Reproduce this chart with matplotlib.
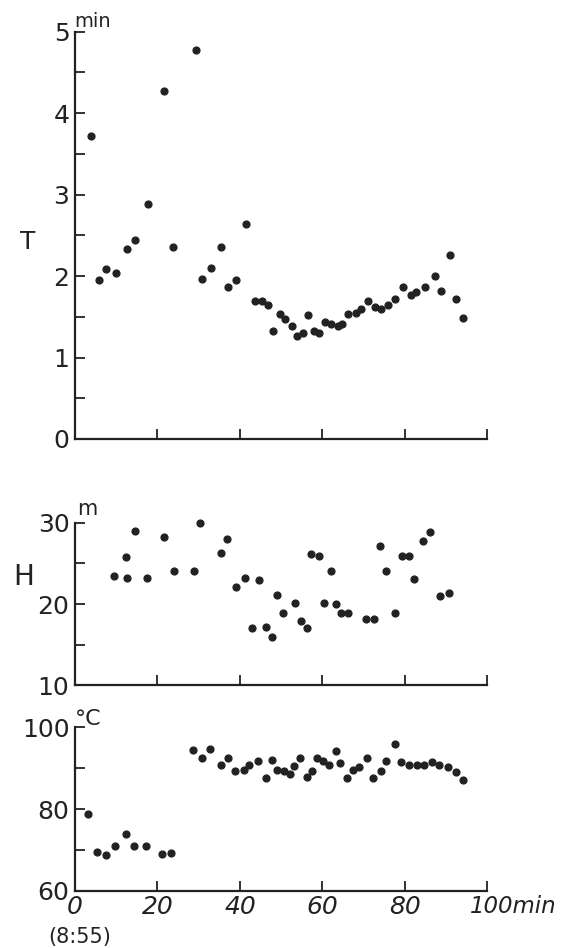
import matplotlib
matplotlib.use("Agg")
import matplotlib.pyplot as plt
from matplotlib.transforms import ScaledTranslation

# time from start (min) and period T (min)
t_min = [3.9, 5.7, 7.6, 9.9, 12.6, 14.5, 17.6, 21.7, 23.8, 29.3, 30.9, 33.0, 35.5, 37.2, 39.1,
         41.5, 43.6, 45.3, 46.7, 48.1, 49.6, 50.9, 52.7, 53.8, 55.2, 56.5, 57.9, 59.2, 60.7,
         62.1, 63.7, 64.7, 66.2, 68.2, 69.4, 71.1, 72.8, 74.3, 76.0, 77.5, 79.5, 81.5, 82.8,
         85.0, 87.4, 88.7, 90.9, 92.5, 94.2]
T_val = [3.72, 1.95, 2.09, 2.04, 2.33, 2.44, 2.88, 4.27, 2.36, 4.78, 1.96, 2.10, 2.36, 1.86, 1.95,
         2.64, 1.69, 1.69, 1.64, 1.33, 1.54, 1.47, 1.39, 1.26, 1.30, 1.52, 1.33, 1.30, 1.44,
         1.41, 1.39, 1.41, 1.53, 1.55, 1.60, 1.70, 1.62, 1.59, 1.64, 1.72, 1.86, 1.77, 1.80,
         1.87, 2.00, 1.82, 2.26, 1.72, 1.48]

# height H (m)
h_min = [9.4, 12.4, 12.5, 14.5, 17.4, 21.5, 23.9, 28.8, 30.3, 35.4, 36.8, 39.0, 41.2, 43.0,
         44.6, 46.4, 47.9, 49.0, 50.4, 53.4, 54.8, 56.3, 57.3, 59.2, 60.3, 62.0, 63.4, 64.5,
         66.3, 70.5, 72.4, 74.0, 75.5, 77.5, 79.2, 81.0, 82.2, 84.4, 86.1, 88.5, 90.7]
H_val = [23.4, 25.8, 23.2, 29.0, 23.2, 28.2, 24.0, 24.1, 30.0, 26.3, 28.0, 22.1, 23.2, 17.0,
         22.9, 17.2, 15.9, 21.1, 18.9, 20.1, 17.9, 17.0, 26.1, 25.9, 20.1, 24.0, 20.0, 18.9,
         18.9, 18.1, 18.1, 27.1, 24.1, 18.9, 25.9, 25.9, 23.1, 27.8, 28.9, 21.0, 21.3]

# temperature (deg C)
c_min = [3.2, 5.3, 7.4, 9.8, 12.3, 14.2, 17.3, 21.1, 23.4, 28.7, 30.7, 32.7, 35.4, 37.0, 38.9,
         41.1, 42.1, 44.5, 46.3, 47.7, 49.1, 50.6, 52.2, 53.2, 54.6, 56.3, 57.4, 58.8, 60.2,
         61.7, 63.2, 64.2, 66.0, 67.5, 69.0, 70.9, 72.2, 74.3, 75.5, 77.5, 79.1, 81.0, 83.0,
         84.6, 86.6, 88.3, 90.5, 92.3, 94.2]
C_val = [78.8, 69.5, 68.8, 71.0, 74.0, 71.0, 71.0, 69.1, 69.3, 94.4, 92.4, 94.6, 90.7, 92.6, 89.2,
         89.6, 90.7, 91.8, 87.5, 92.0, 89.6, 89.4, 88.5, 90.6, 92.6, 87.9, 89.3, 92.4, 91.8,
         90.7, 94.3, 91.2, 87.5, 89.6, 90.3, 92.6, 87.5, 89.4, 91.8, 95.9, 91.4, 90.7, 90.8,
         90.8, 91.5, 90.7, 90.2, 89.0, 87.1]

x_ticks = [0, 20, 40, 60, 80, 100]
x_labels = ["0", "20", "40", "60", "80", "100min"]
ink = "#222222"

fig = plt.figure(figsize=(5.64, 9.48), dpi=100)
W, H = 564, 948


def make_axes(top_px, bottom_px):
    ax = fig.add_axes([0.133, 1 - bottom_px / H, 0.731, (bottom_px - top_px) / H])
    for s in ["top", "right"]:
        ax.spines[s].set_visible(False)
    for s in ["left", "bottom"]:
        ax.spines[s].set_linewidth(1.6)
        ax.spines[s].set_color(ink)
    ax.set_xlim(0, 100)
    ax.set_xticks(x_ticks)
    ax.tick_params(direction="in", length=7, width=1.3, color=ink, labelcolor=ink,
                   labelsize=18, pad=4)
    ax.tick_params(axis="y", which="minor", direction="in", length=7, width=1.3, color=ink)
    return ax


ax1 = make_axes(31.7, 439)
ax1.scatter(t_min, T_val, s=24, color=ink, clip_on=False, zorder=3)
ax1.set_ylim(0, 5)
ax1.set_yticks([0, 1, 2, 3, 4, 5])
ax1.set_yticks([0.5, 1.5, 2.5, 3.5, 4.5], minor=True)
ax1.set_xticklabels([])

ax2 = make_axes(522.7, 685.3)
ax2.scatter(h_min, H_val, s=24, color=ink, clip_on=False, zorder=3)
ax2.set_ylim(10, 30)
ax2.set_yticks([10, 20, 30])
ax2.set_yticks([15, 25], minor=True)
ax2.set_xticklabels([])

ax3 = make_axes(727.3, 891)
ax3.scatter(c_min, C_val, s=24, color=ink, clip_on=False, zorder=3)
ax3.set_ylim(60, 100)
ax3.set_yticks([60, 80, 100])
ax3.set_yticks([70, 90], minor=True)
ax3.set_xticklabels(x_labels, fontsize=18, style="italic")
ax3.tick_params(axis="x", pad=3)
last = ax3.get_xticklabels()[-1]
last.set_ha("left")
last.set_fontsize(16.5)
last.set_transform(last.get_transform() + ScaledTranslation(-0.17, 0, fig.dpi_scale_trans))

# unit and axis labels
fig.text(74 / W, 1 - 27 / H, "min", fontsize=14, color=ink, ha="left", va="baseline")
fig.text(77 / W, 1 - 515 / H, "m", fontsize=15, color=ink, ha="left", va="baseline")
fig.text(75 / W, 1 - 725 / H, "°C", fontsize=16, color=ink, ha="left", va="baseline")
fig.text(28 / W, 1 - 242 / H, "T", fontsize=18, color=ink, ha="center", va="center")
fig.text(24 / W, 1 - 577 / H, "H", fontsize=20, color=ink, ha="center", va="center")
fig.text(80 / W, 1 - 937 / H, "(8:55)", fontsize=15, color=ink, ha="center", va="center")

fig.savefig("out.png", dpi=100, facecolor="white")
